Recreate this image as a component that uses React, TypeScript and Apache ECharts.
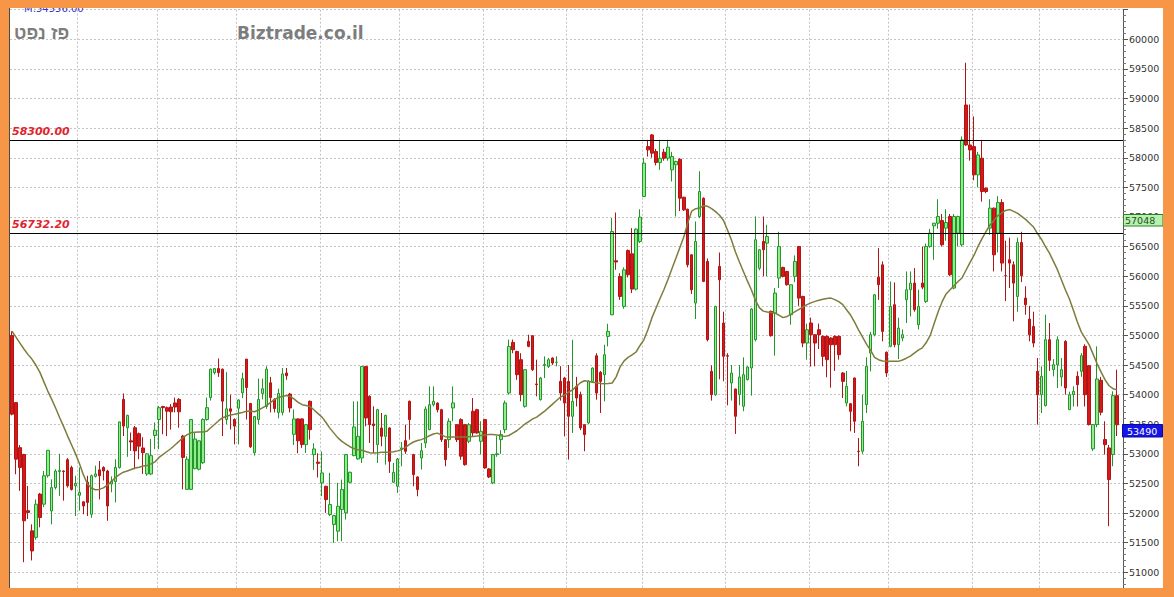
import React, { useEffect, useRef } from 'react';
import * as echarts from 'echarts';

const W = 1174;
const H = 597;

// Daily OHLC, oldest first
const opens = [
  55000, 53865, 53105, 52990, 52040, 51700, 51590, 52320, 52150, 52630,
  52035, 52430, 52700, 52710, 52900, 52770, 52460, 52300, 52190, 52520,
  51980, 52620, 52730, 52770, 52710, 52490, 52530, 52770, 53920, 53440,
  53220, 53440, 53340, 53100, 52660, 52660, 53310, 53580, 53800, 53780,
  53790, 53860, 53920, 53300, 52400, 52400, 52750, 52740, 52850, 53580,
  53950, 54370, 54440, 54430, 53580, 53760, 53580, 53770, 54030, 54600,
  53850, 53020, 53580, 54020, 53800, 54200, 53920, 53700, 53700, 54365,
  54010, 53330, 53590, 53590, 53156, 53887, 52987, 52860, 52510, 52453,
  51975, 51806, 51694, 52059, 52003, 52520, 52970, 52914, 52930, 54477,
  53971, 53505, 53156, 53437, 53296, 53437, 52520, 52453, 53083, 53223,
  53887, 52987, 52610, 52930, 53184, 53409, 53830, 53857, 53746, 53240,
  53240, 53775, 53493, 53578, 53493, 53212, 53718, 53746, 53212, 53578,
  52745, 52509, 52987, 53240, 53409, 54027, 54882, 54730, 54590, 53802,
  54900, 54995, 54180, 53915, 54494, 54477, 54618, 54545, 54224, 54280,
  54224, 53634, 54140, 54000, 53493, 53521, 54224, 54657, 54376, 54337,
  54983, 55349, 56260, 55996, 55490, 56434, 56378, 55782, 56586, 57346,
  58189, 58386, 58105, 57919, 58094, 57992, 57796, 57880, 57975, 57334,
  57131, 56361, 55546, 57008, 57317, 56249, 54393, 53999, 56165, 55209,
  54658, 54197, 54095, 54000, 53803, 54253, 54450, 54928, 56134, 56586,
  56558, 55406, 55378, 55968, 56148, 56080, 55349, 55996, 56502, 55658,
  54871, 55209, 55012, 55096, 54984, 54984, 54955, 54984, 54984, 54365,
  53859, 53847, 54281, 53044, 53044, 53831, 54702, 55012, 55984, 56192,
  54714, 54815, 55518, 54843, 54955, 55602, 55771, 55883, 55180, 55883,
  55574, 56502, 56850, 56895, 56940, 56811, 57008, 55799, 56727, 56530,
  58891, 58216, 58188, 57711, 57992, 57486, 56811, 57149, 56727, 57244,
  56010, 56277, 56193, 55658, 56570, 55630, 55275, 55152, 54393, 53999,
  53814, 54928, 54421, 54505, 54298, 54899, 53746, 53999, 54309, 54393,
  54815, 54489, 53084, 53494, 54242, 53241, 53100, 52988, 53983,
];

const closes = [
  53670, 52910, 52770, 51870, 52010, 51360, 52150, 51925, 52630, 53060,
  52430, 52710, 52720, 52700, 52460, 52400, 52500, 52350, 52120, 52180,
  52630, 52660, 52630, 52710, 52120, 52540, 52770, 53540, 53470, 53650,
  53200, 53050, 53130, 53020, 53000, 52970, 53400, 53780, 53780, 53720,
  53710, 53790, 53710, 52940, 52910, 53580, 53250, 53220, 53580, 53780,
  54430, 54440, 54370, 53890, 53760, 53720, 53470, 53910, 54270, 54120,
  53120, 53630, 53920, 54100, 54430, 53950, 53765, 54020, 54350, 54320,
  53775, 53590, 53220, 53156, 53493, 53409, 53083, 52840, 52678, 52228,
  52144, 51958, 52115, 52397, 52987, 52689, 53454, 53296, 54477, 53606,
  53493, 53476, 53746, 53296, 53650, 52874, 52689, 52914, 53100, 53043,
  53578, 52650, 52397, 53054, 53757, 53830, 53887, 53746, 53240, 52902,
  53550, 53860, 53240, 52960, 52818, 53493, 53353, 53353, 53381, 52762,
  52610, 52987, 53000, 53325, 53859, 54815, 54758, 54337, 54000, 54421,
  54815, 54421, 54170, 54280, 54510, 54590, 54533, 54545, 54027, 53859,
  53634, 53887, 53943, 53437, 53325, 54224, 54449, 54027, 54224, 54674,
  55068, 56755, 56240, 55658, 56108, 56024, 55782, 56794, 56997, 57908,
  58133, 58077, 57919, 57992, 57992, 58178, 58020, 57936, 57317, 57120,
  56193, 55771, 56586, 57430, 55912, 54928, 53999, 55490, 55940, 54647,
  54650, 54365, 53634, 54298, 54337, 54467, 55445, 56615, 56446, 56446,
  56670, 54995, 55715, 56502, 55996, 55856, 55855, 56249, 55630, 54871,
  55096, 55012, 54871, 55012, 54646, 54590, 54843, 54843, 54674, 54224,
  54140, 53718, 53550, 53040, 53550, 54477, 55012, 55686, 55855, 55068,
  54365, 55490, 54843, 55124, 55012, 55771, 55883, 55433, 55490, 55815,
  56502, 56727, 56895, 57008, 56530, 56906, 56024, 57008, 57008, 58301,
  58216, 58132, 57711, 58048, 57430, 57430, 57149, 56361, 57244, 56221,
  56010, 56221, 55883, 56570, 56007, 55518, 55010, 54870, 53999, 54309,
  54928, 54579, 54505, 54928, 54421, 54112, 53999, 54056, 54168, 54658,
  53999, 53494, 53494, 54264, 53702, 53156, 52566, 53983, 53490,
];

const lows = [
  53650, 52655, 52375, 51170, 51900, 51200, 51550, 51760, 52100, 52600,
  51810, 52400, 52290, 52210, 52430, 52380, 51950, 52040, 51980, 51950,
  51920, 52600, 52230, 52550, 51870, 52350, 52180, 52750, 53300, 52950,
  53050, 52740, 52910, 52660, 52630, 52640, 53080, 53080, 53330, 53300,
  53410, 53700, 53440, 52400, 52400, 52390, 52740, 52720, 52830, 53560,
  53900, 54340, 54300, 53300, 53500, 53410, 53160, 53160, 53940, 53580,
  53100, 52970, 53500, 53920, 53760, 53700, 53700, 53600, 53650, 54250,
  53700, 53150, 53010, 53100, 53015, 53240, 52730, 52600, 52285, 52003,
  51950, 51497, 51525, 51525, 51890, 52500, 52960, 52900, 52846, 53465,
  53184, 53015, 52846, 53128, 52818, 52678, 52510, 52340, 52790, 53000,
  53240, 52453, 52284, 52734, 53100, 53400, 53800, 53700, 53200, 52790,
  53100, 53550, 53200, 52900, 52800, 53180, 53300, 53340, 52987, 52750,
  52590, 52490, 52950, 53000, 53350, 54000, 54700, 54250, 53887, 53780,
  54800, 54400, 53971, 53900, 54280, 54450, 54500, 54477, 53900, 53296,
  52903, 53353, 53800, 53400, 53044, 53500, 54200, 53915, 53690, 53887,
  54815, 55340, 56108, 55600, 55450, 55980, 55715, 55760, 56560, 57340,
  58020, 58000, 57870, 57796, 57950, 57950, 57599, 57008, 57100, 57100,
  56150, 55700, 55277, 56980, 55900, 54900, 53899, 53980, 54258, 54226,
  53820, 53899, 53336, 53820, 53720, 54240, 53983, 54900, 56100, 56000,
  56000, 54980, 54658, 55800, 55980, 55840, 55180, 55900, 55500, 54800,
  54590, 54474, 54478, 54770, 54478, 54293, 54118, 54400, 54590, 53943,
  53800, 53381, 53353, 52790, 53000, 53690, 54393, 54984, 55600, 54900,
  54300, 54800, 54800, 54600, 54900, 55209, 55320, 55400, 55100, 55780,
  55550, 56480, 56277, 56800, 56500, 56600, 56000, 55780, 56500, 56500,
  58200, 57950, 57620, 57500, 57260, 57400, 56700, 56080, 56400, 56080,
  55580, 55800, 55237, 55400, 55900, 55350, 54900, 54800, 53494, 53690,
  53800, 54400, 54308, 54112, 54140, 54000, 53740, 53800, 53800, 54300,
  53800, 53480, 53050, 53450, 53650, 52988, 51779, 52791, 53300,
];

const highs = [
  55070, 53870, 53150, 53000, 52460, 51810, 52230, 52340, 52710, 53060,
  52570, 52740, 53000, 52720, 52930, 52800, 52630, 52770, 52200, 52630,
  52650, 52800, 52880, 52790, 52730, 52620, 52910, 53540, 54020, 53660,
  53360, 53470, 53360, 53280, 53010, 53250, 53530, 53810, 53810, 53800,
  53840, 53950, 53940, 53320, 52960, 53590, 53360, 53230, 53600, 53950,
  54440, 54450, 54610, 54440, 54380, 54000, 53600, 53920, 54370, 54600,
  53860, 53640, 54270, 54270, 54480, 54300, 53940, 54100, 54450, 54450,
  54030, 53750, 53600, 53600, 53500, 53900, 53180, 53010, 53040, 52460,
  52680, 51970, 52510, 52565, 53000, 52700, 53887, 53887, 54480, 54480,
  53990, 53802, 53760, 53690, 53660, 53450, 52846, 52930, 53200, 53493,
  53900, 53000, 52620, 53184, 53802, 54140, 54140, 53870, 53760, 53250,
  53600, 54140, 53500, 53600, 53500, 53520, 53943, 53760, 53550, 53590,
  52760, 53000, 53300, 53400, 53900, 54930, 54930, 54740, 54700, 54430,
  55012, 55000, 54590, 54300, 54646, 54620, 54630, 54646, 54480, 54300,
  54500, 54927, 54300, 54050, 53500, 54240, 54460, 54700, 54400, 54843,
  55197, 56980, 57075, 56050, 56150, 56450, 56811, 56810, 57130, 58000,
  58302, 58400, 58150, 58302, 58150, 58302, 58100, 57950, 57992, 57340,
  57140, 56370, 56924, 57773, 57330, 56300, 54495, 55500, 56400, 55400,
  54700, 54500, 54100, 54500, 54629, 54480, 55460, 57008, 56460, 57008,
  56868, 55420, 55800, 56750, 56160, 56090, 55860, 56350, 56510, 55670,
  55200, 55300, 55020, 55200, 55000, 55000, 54970, 55000, 55000, 54380,
  54400, 53860, 54290, 53268, 53999, 54630, 55060, 55700, 56474, 56250,
  54730, 55910, 55894, 55300, 55100, 56080, 56080, 56136, 55771, 56500,
  56550, 56800, 56900, 57300, 57050, 57130, 57050, 57050, 57020, 58360,
  59605, 58900, 58699, 58100, 58301, 57500, 57300, 57160, 57350, 57300,
  56600, 56650, 56250, 56650, 56750, 55830, 55500, 55400, 54618, 54478,
  55350, 55209, 54600, 54984, 54618, 54920, 54050, 54140, 54393, 54700,
  54850, 54500, 53500, 54815, 54300, 53550, 53150, 54056, 54421,
];

// Moving average line, one value per session
const ma20 = [
  55070, 54970, 54870, 54770, 54680, 54600, 54500, 54380, 54220, 54060,
  53920, 53770, 53610, 53460, 53300, 53150, 53000, 52830, 52640, 52490,
  52420, 52395, 52400, 52425, 52470, 52530, 52600, 52650, 52690, 52711,
  52735, 52760, 52775, 52795, 52805, 52830, 52865, 52940, 52990, 53040,
  53090, 53150, 53210, 53275, 53320, 53355, 53365, 53370, 53370, 53380,
  53440, 53500, 53560, 53610, 53635, 53655, 53668, 53685, 53700, 53720,
  53725, 53710, 53740, 53775, 53815, 53865, 53915, 53950, 53970, 53985,
  53970, 53925, 53870, 53830, 53815, 53800, 53740, 53680, 53620, 53530,
  53430, 53350, 53270, 53210, 53165, 53120, 53090, 53070, 53060, 53040,
  53020, 53015, 53020, 53027, 53027, 53027, 53035, 53050, 53070, 53110,
  53160, 53200, 53225, 53240, 53270, 53305, 53335, 53350, 53320, 53290,
  53285, 53285, 53285, 53285, 53285, 53290, 53295, 53300, 53310, 53320,
  53325, 53325, 53320, 53305, 53295, 53310, 53350, 53390, 53445, 53500,
  53545, 53590, 53620, 53670, 53720, 53780, 53840, 53900, 53960, 53990,
  54040, 54080, 54140, 54200, 54235, 54225, 54210, 54200, 54190, 54185,
  54190, 54196, 54300, 54470, 54570, 54630, 54670, 54720, 54830, 54930,
  55100, 55300, 55460, 55620, 55771, 55940, 56120, 56300, 56480, 56660,
  56900, 57100, 57140, 57150, 57190, 57180, 57140, 57090, 57030, 56940,
  56780, 56610, 56410, 56240, 56080, 55920, 55771, 55600, 55470, 55410,
  55395, 55385, 55375, 55340, 55300, 55320, 55360, 55400, 55440, 55480,
  55520, 55550, 55575, 55595, 55612, 55625, 55630, 55605, 55570, 55520,
  55430, 55340, 55220, 55090, 54970, 54850, 54750, 54630, 54590, 54568,
  54563, 54562, 54562, 54562, 54585, 54615, 54650, 54700, 54750, 54790,
  54880, 55000, 55200, 55400, 55570, 55700, 55770, 55840, 55910, 55970,
  56100, 56230, 56350, 56500, 56630, 56750, 56860, 56940, 57020, 57070,
  57110, 57125, 57095, 57060, 57010, 56960, 56895, 56830, 56720, 56620,
  56500, 56390, 56250, 56110, 55940, 55770, 55620, 55430, 55230, 55060,
  54950, 54840, 54680, 54520, 54380, 54250, 54150, 54100, 54080,
];

// Horizontal reference levels
const levels = [58300, 56732.2];
// Price tags on the right scale
const refTag = 57048;
const lastTag = 53490;
// First session of each month (0-based), where the vertical grid falls
const monthStarts = [17, 37, 57, 78, 98, 119, 140, 159, 180, 201, 221, 242, 259];
// Price scale
const yMin = 50500;
const yMax = 60500;
const yStep = 500;
const slotCount = 280;

const ORANGE = '#f79646';
const GRID_COLOR = '#c4c4c4';

export default function App() {
  const ref = useRef<HTMLDivElement>(null);

  useEffect(() => {
    const el = ref.current;
    if (!el) return;
    const chart = echarts.init(el, null, { renderer: 'svg' });

    const slots = Array.from({ length: slotCount }, (_, i) => `${i + 1}`);
    const candles = opens.map((o, i) => [o, closes[i], lows[i], highs[i]]);

    chart.setOption({
      animation: false,
      backgroundColor: '#ffffff',
      grid: {
        left: 10,
        top: 9.7,
        width: W - 10 - 51,
        height: 592.2,
        containLabel: false,
        outerBoundsMode: 'none',
      },
      xAxis: {
        type: 'category',
        data: slots,
        boundaryGap: true,
        axisLine: { show: false },
        axisTick: { show: false },
        axisLabel: { show: false },
        splitLine: {
          show: true,
          interval: (i: number) => monthStarts.includes(i),
          lineStyle: { color: GRID_COLOR, type: [2, 2], width: 1 },
        },
      },
      yAxis: {
        type: 'value',
        position: 'right',
        min: yMin,
        max: yMax,
        interval: yStep,
        axisLine: { show: true, lineStyle: { color: '#555555', width: 1 } },
        axisTick: { show: true, length: 5, lineStyle: { color: '#555555' } },
        minorTick: { show: true, splitNumber: 5, length: 3, lineStyle: { color: '#777777' } },
        axisLabel: {
          margin: 6,
          color: '#333333',
          fontFamily: 'DejaVu Sans',
          fontSize: 9.5,
          showMinLabel: false,
          showMaxLabel: false,
          formatter: (v: number) => (v >= yMax || v <= yMin ? '' : String(v)),
        },
        splitLine: { show: true, lineStyle: { color: GRID_COLOR, type: [2, 2], width: 1 } },
      },
      series: [
        {
          type: 'candlestick',
          data: candles,
          barWidth: 3,
          itemStyle: {
            color: '#92ec8e',
            borderColor: '#23962a',
            color0: '#d81818',
            borderColor0: '#b01515',
            borderWidth: 1,
          },
          emphasis: { disabled: true },
          markLine: {
            silent: true,
            symbol: ['none', 'none'],
            lineStyle: { color: '#000000', type: 'solid', width: 1 },
            emphasis: { disabled: true },
            label: {
              show: true,
              position: 'insideStartTop',
              distance: [2, 3],
              formatter: (p: any) => Number(p.value).toFixed(2),
              color: '#e0232d',
              fontFamily: 'DejaVu Sans',
              fontStyle: 'italic',
              fontWeight: 'bold',
              fontSize: 11,
            },
            data: levels.map((v) => ({ yAxis: v })),
          },
        },
        {
          type: 'line',
          data: ma20,
          symbol: 'none',
          showSymbol: false,
          lineStyle: { color: '#7e7c3c', width: 1.5 },
          emphasis: { disabled: true },
          z: 3,
        },
      ],
    });

    const yPx = (v: number) => chart.convertToPixel({ yAxisIndex: 0 }, v) as number;
    const refY = yPx(refTag);
    const lastY = yPx(lastTag);

    chart.setOption({
      graphic: [
        {
          type: 'text',
          z: 50,
          x: 24,
          y: 13,
          style: {
            text: 'M:54556.00',
            fill: '#3535c8',
            fontFamily: 'DejaVu Sans',
            fontSize: 10,
            verticalAlign: 'bottom',
          },
        },
        {
          type: 'text',
          z: 60,
          x: 14,
          y: 33,
          style: {
            text: 'פז נפט',
            fill: '#7d7d7d',
            fontFamily: 'Liberation Sans',
            fontWeight: 'bold',
            fontSize: 18,
            verticalAlign: 'middle',
          },
        },
        {
          type: 'text',
          z: 60,
          x: 237,
          y: 33,
          style: {
            text: 'Biztrade.co.il',
            fill: '#7d7d7d',
            fontFamily: 'DejaVu Sans',
            fontWeight: 'bold',
            fontSize: 17,
            verticalAlign: 'middle',
          },
        },
        {
          type: 'rect',
          z: 70,
          shape: { x: 1123.5, y: Math.round(refY) + 0.5, width: 39.5, height: 11.5 },
          style: { fill: '#b6f2ae', stroke: '#2f7f2f', lineWidth: 1 },
        },
        {
          type: 'text',
          z: 71,
          x: 1125,
          y: Math.round(refY) + 6.5,
          style: {
            text: String(refTag),
            fill: '#1d4f1d',
            fontFamily: 'DejaVu Sans',
            fontSize: 9.5,
            verticalAlign: 'middle',
          },
        },
        {
          type: 'rect',
          z: 70,
          shape: { x: 1122.5, y: Math.round(lastY) - 0.5, width: 40, height: 12.5 },
          style: { fill: '#1414e6', stroke: '#0a0a9a', lineWidth: 1 },
        },
        {
          type: 'text',
          z: 71,
          x: 1127,
          y: Math.round(lastY) + 6,
          style: {
            text: String(lastTag),
            fill: '#ffffff',
            fontFamily: 'DejaVu Sans',
            fontSize: 9.5,
            verticalAlign: 'middle',
          },
        },
        {
          type: 'line',
          z: 90,
          shape: { x1: 9.5, y1: 8, x2: 9.5, y2: 588 },
          style: { stroke: '#4a4a4a', lineWidth: 1 },
        },
        { type: 'rect', z: 100, shape: { x: 0, y: 0, width: W, height: 8 }, style: { fill: ORANGE } },
        { type: 'rect', z: 100, shape: { x: 0, y: 0, width: 9, height: H }, style: { fill: ORANGE } },
        { type: 'rect', z: 100, shape: { x: 1163, y: 0, width: W - 1163, height: H }, style: { fill: ORANGE } },
        { type: 'rect', z: 100, shape: { x: 0, y: 588, width: W, height: H - 588 }, style: { fill: ORANGE } },
      ],
    });

    return () => chart.dispose();
  }, []);

  return <div ref={ref} style={{ position: 'fixed', left: 0, top: 0, width: W, height: H }} />;
}
